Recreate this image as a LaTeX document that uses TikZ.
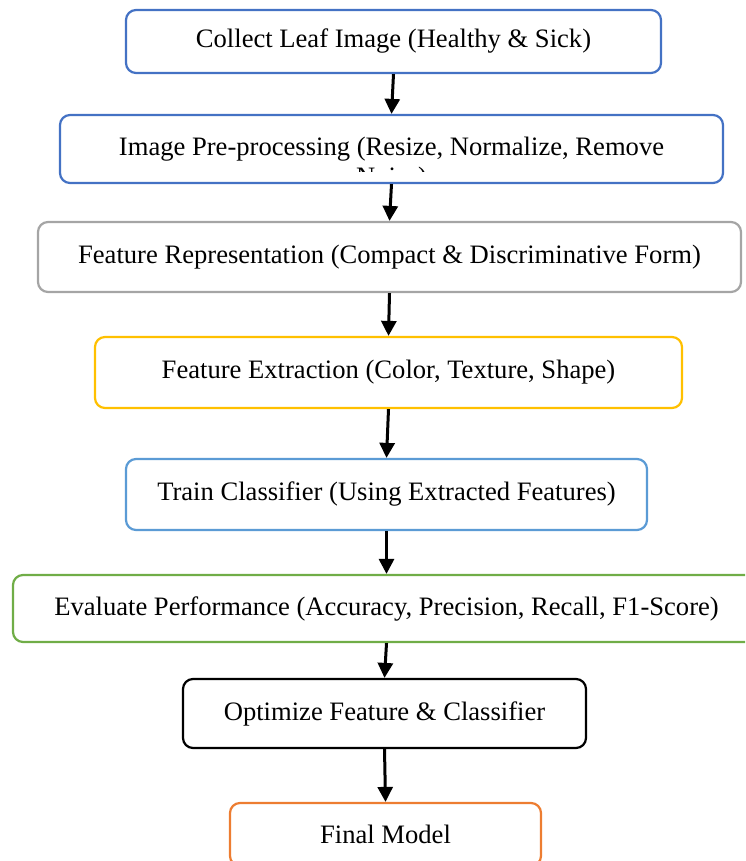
\documentclass[tikz,border=0pt]{standalone}
\usepackage{fontspec}
\setmainfont{Liberation Serif}
\usetikzlibrary{arrows.meta, positioning}
\definecolor{wblue}{HTML}{4472C4}
\definecolor{wgray}{HTML}{A5A5A5}
\definecolor{wgold}{HTML}{FFC000}
\definecolor{wsky}{HTML}{5B9BD5}
\definecolor{wgreen}{HTML}{70AD47}
\definecolor{worange}{HTML}{ED7D31}
\tikzset{
  box/.style={draw, rounded corners=5pt, line width=1.1pt, align=center, font=\fontsize{13.3}{15}\selectfont, fill=white, inner sep=0pt},
  arr/.style={-{Triangle[length=7.5pt, width=7.5pt]}, line width=1.5pt},
  lbl/.style={font=\fontsize{13.3}{15}\selectfont, inner sep=0pt}
}

\begin{document}
\begin{tikzpicture}[x=0.5pt, y=-0.5pt]
    \useasboundingbox (0,0) rectangle (745,861);
    \clip (0,0) rectangle (745,861);
    \node[box, draw=wblue, minimum width=267.5pt, minimum height=31.5pt] (collect) at (393.5,41.5) {Collect Leaf Image (Healthy \& Sick)};
    \node[box, draw=wblue, minimum width=331.5pt, minimum height=34pt] (prep) at (391.5,149) {Image Pre-processing (Resize, Normalize, Remove};
    \begin{scope}
      \clip (300,160) rectangle (480,171.5);
      \node[lbl, anchor=base] (noise) at (391.5,185.5) {Noise)};
    \end{scope}
    \node[box, draw=wgray, minimum width=351.5pt, minimum height=35pt] (repr) at (389.5,257) {Feature Representation (Compact \& Discriminative Form)};
    \node[box, draw=wgold, minimum width=293.5pt, minimum height=35.5pt] (extract) at (388.5,372.5) {Feature Extraction (Color, Texture, Shape)};
    \node[box, draw=wsky, minimum width=260.5pt, minimum height=35.5pt] (train) at (386.5,494.5) {Train Classifier (Using Extracted Features)};
    \node[box, draw=wgreen, minimum width=373.5pt, minimum height=33.5pt] (eval) at (386.5,608.5) {Evaluate Performance (Accuracy, Precision, Recall, F1-Score)};
    \node[box, draw=black, minimum width=201.5pt, minimum height=34.5pt] (optim) at (384.5,713.5) {Optimize Feature \& Classifier};
    \node[box, draw=worange, minimum width=155.5pt, minimum height=31.5pt] (final) at (385.5,834.5) {Final Model};

    \draw[arr] (collect.south) -- (prep.north);
    \draw[arr] (prep.south) -- (repr.north);
    \draw[arr] (repr.south) -- (extract.north);
    \draw[arr] (extract.south) -- (train.north);
    \draw[arr] (train.south) -- (eval.north);
    \draw[arr] (eval.south) -- (optim.north);
    \draw[arr] (optim.south) -- (final.north);
\end{tikzpicture}
\end{document}
